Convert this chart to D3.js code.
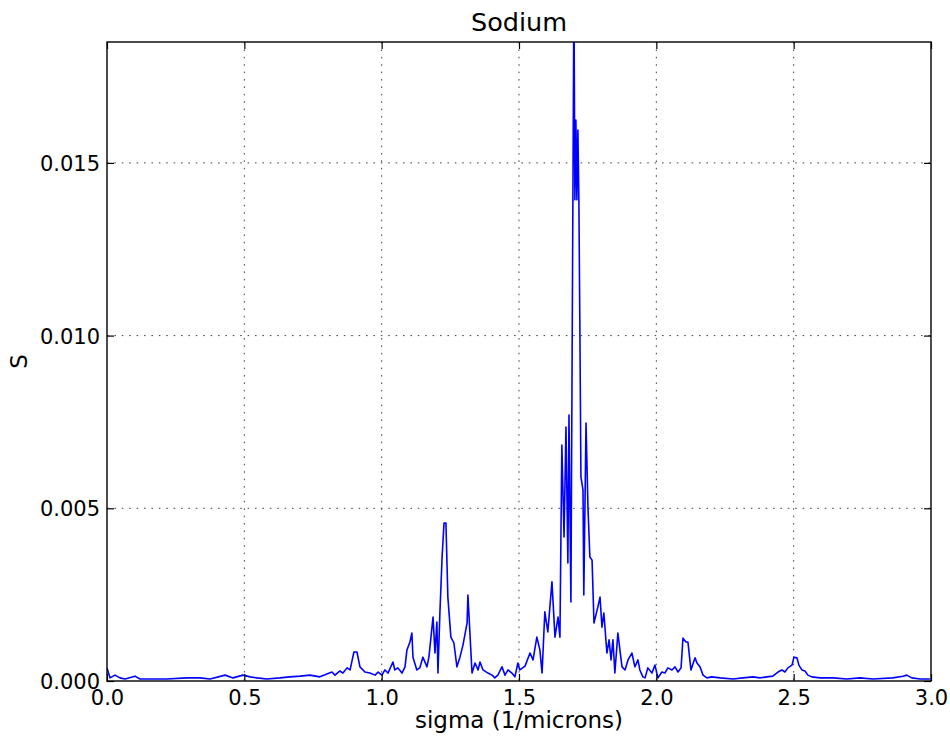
<!DOCTYPE html>
<html lang="en">
    <head>
        <meta charset="utf-8">
        <title>Sodium</title>
        <script type="text/javascript" src="https://cdn.jsdelivr.net/npm/d3@7"></script>
        <style>
            body { margin: 0; background: white; }
            text { font-family: "DejaVu Sans", sans-serif; fill: black; }
        </style>
    </head>
    <body>
        <script type="text/javascript">
            // spectrum
            const sigma = [
                0.000, 0.011, 0.029, 0.047, 0.066, 0.102, 0.120, 0.182, 0.218, 0.291,
                0.339, 0.375, 0.430, 0.459, 0.495, 0.521, 0.546, 0.582, 0.630, 0.666,
                0.703, 0.739, 0.775, 0.819, 0.830, 0.848, 0.859, 0.874, 0.885, 0.899,
                0.910, 0.921, 0.939, 0.957, 0.976, 0.987, 1.001, 1.012, 1.023, 1.041,
                1.048, 1.059, 1.074, 1.085, 1.092, 1.103, 1.110, 1.114, 1.128, 1.139,
                1.150, 1.165, 1.172, 1.187, 1.194, 1.201, 1.205, 1.212, 1.220, 1.227,
                1.234, 1.241, 1.252, 1.263, 1.274, 1.285, 1.296, 1.311, 1.314, 1.329,
                1.340, 1.351, 1.358, 1.369, 1.387, 1.402, 1.412, 1.423, 1.438, 1.449,
                1.460, 1.474, 1.485, 1.496, 1.503, 1.522, 1.540, 1.551, 1.565, 1.576,
                1.584, 1.594, 1.605, 1.620, 1.631, 1.642, 1.649, 1.656, 1.664, 1.671,
                1.678, 1.682, 1.689, 1.700, 1.7035, 1.7071, 1.7108, 1.7144, 1.718, 1.7217,
                1.7255, 1.733, 1.736, 1.744, 1.751, 1.758, 1.766, 1.773, 1.787, 1.795,
                1.802, 1.809, 1.820, 1.828, 1.835, 1.842, 1.849, 1.860, 1.875, 1.886,
                1.897, 1.911, 1.922, 1.933, 1.940, 1.951, 1.959, 1.969, 1.984, 1.995,
                2.006, 2.020, 2.031, 2.042, 2.057, 2.068, 2.079, 2.090, 2.097, 2.108,
                2.115, 2.126, 2.141, 2.148, 2.159, 2.170, 2.184, 2.202, 2.232, 2.279,
                2.315, 2.352, 2.377, 2.403, 2.424, 2.443, 2.457, 2.468, 2.479, 2.494,
                2.501, 2.512, 2.519, 2.530, 2.541, 2.552, 2.566, 2.596, 2.643, 2.694,
                2.741, 2.788, 2.861, 2.898, 2.912, 2.930, 2.960, 2.996
            ]
            const S = [
                0.00038, 0.00009, 0.00017, 0.00009, 0.00006, 0.00014, 0.00006, 0.00006, 0.00006, 0.00009,
                0.00009, 0.00006, 0.00017, 0.00009, 0.00017, 0.00012, 0.00009, 0.00006, 0.00009, 0.00012,
                0.00014, 0.00017, 0.00012, 0.00026, 0.00017, 0.00029, 0.00023, 0.00038, 0.00032, 0.00084,
                0.00084, 0.00041, 0.00026, 0.00023, 0.00017, 0.00026, 0.00017, 0.00032, 0.00023, 0.00055,
                0.00032, 0.00038, 0.00023, 0.00041, 0.00090, 0.00113, 0.00139, 0.00069, 0.00032, 0.00038,
                0.00069, 0.00041, 0.00069, 0.00185, 0.00081, 0.00171, 0.00023, 0.00197, 0.00359, 0.00457,
                0.00457, 0.00243, 0.00127, 0.00110, 0.00041, 0.00069, 0.00104, 0.00168, 0.00249, 0.00023,
                0.00052, 0.00032, 0.00055, 0.00032, 0.00023, 0.00017, 0.00009, 0.00017, 0.00041, 0.00017,
                0.00032, 0.00023, 0.00012, 0.00052, 0.00032, 0.00043, 0.00081, 0.00061, 0.00127, 0.00090,
                0.00023, 0.00200, 0.00142, 0.00287, 0.00127, 0.00185, 0.00127, 0.00683, 0.00417, 0.00735,
                0.00342, 0.00770, 0.00229, 0.02000, 0.01393, 0.01624, 0.01393, 0.01595, 0.01393, 0.01016,
                0.00591, 0.00553, 0.00249, 0.00747, 0.00504, 0.00359, 0.00350, 0.00168, 0.00214, 0.00243,
                0.00156, 0.00197, 0.00081, 0.00119, 0.00061, 0.00119, 0.00023, 0.00139, 0.00041, 0.00032,
                0.00061, 0.00081, 0.00041, 0.00061, 0.00032, 0.00012, 0.00009, 0.00038, 0.00023, 0.00046,
                0.00009, 0.00026, 0.00023, 0.00038, 0.00032, 0.00041, 0.00026, 0.00038, 0.00124, 0.00113,
                0.00113, 0.00032, 0.00067, 0.00052, 0.00041, 0.00017, 0.00009, 0.00012, 0.00009, 0.00006,
                0.00009, 0.00012, 0.00009, 0.00012, 0.00014, 0.00026, 0.00032, 0.00026, 0.00038, 0.00046,
                0.00069, 0.00067, 0.00046, 0.00032, 0.00029, 0.00017, 0.00012, 0.00009, 0.00009, 0.00006,
                0.00009, 0.00006, 0.00009, 0.00014, 0.00017, 0.00009, 0.00006, 0.00006
            ]
            const xTicks = [0.0, 0.5, 1.0, 1.5, 2.0, 2.5, 3.0]
            const yTicks = [0.000, 0.005, 0.010, 0.015]

            const w = 950
            const h = 740
            const m = {top: 42, right: 19, bottom: 59, left: 107}
            const iw = w - m.left - m.right
            const ih = h - m.top - m.bottom
            const tickLen = 7

            let svg = d3.select("body")
                        .append("svg")
                            .attr("width", w)
                            .attr("height", h)

            let x = d3.scaleLinear().domain([0, 3]).range([m.left, m.left + iw])
            let y = d3.scaleLinear().domain([0, 0.0185]).range([m.top + ih, m.top])

            svg.append("defs").append("clipPath")
                .attr("id", "plot")
                .append("rect")
                    .attr("x", m.left)
                    .attr("y", m.top)
                    .attr("width", iw)
                    .attr("height", ih)

            // dotted grid
            let grid = svg.append("g")
            grid.selectAll(".gx")
                .data(xTicks.slice(1, -1))
                .enter()
                .append("line")
                    .attr("x1", d => x(d)).attr("x2", d => x(d))
                    .attr("y1", m.top).attr("y2", m.top + ih)
            grid.selectAll(".gy")
                .data(yTicks.slice(1))
                .enter()
                .append("line")
                    .attr("x1", m.left).attr("x2", m.left + iw)
                    .attr("y1", d => y(d)).attr("y2", d => y(d))
            grid.selectAll("line")
                .attr("stroke", "#444")
                .attr("stroke-width", 1)
                .attr("stroke-dasharray", "1.6,5.8")

            let line = d3.line()
                         .x((d, i) => x(sigma[i]))
                         .y(d => y(d))
            svg.append("path")
                .datum(S)
                .attr("clip-path", "url(#plot)")
                .attr("d", line)
                .attr("fill", "none")
                .attr("stroke", "#0000ff")
                .attr("stroke-width", 1.6)
                .attr("stroke-linejoin", "round")

            // axes: ticks inside on all four sides
            let xb = svg.append("g")
                        .attr("transform", `translate(0,${m.top + ih})`)
                        .call(d3.axisBottom(x).tickValues(xTicks).tickFormat(d3.format(".1f"))
                                .tickSizeInner(-tickLen).tickSizeOuter(0).tickPadding(9))
            let xt = svg.append("g")
                        .attr("transform", `translate(0,${m.top})`)
                        .call(d3.axisTop(x).tickValues(xTicks).tickFormat("")
                                .tickSizeInner(-tickLen).tickSizeOuter(0))
            let yl = svg.append("g")
                        .attr("transform", `translate(${m.left},0)`)
                        .call(d3.axisLeft(y).tickValues(yTicks).tickFormat(d3.format(".3f"))
                                .tickSizeInner(-tickLen).tickSizeOuter(0).tickPadding(7))
            let yr = svg.append("g")
                        .attr("transform", `translate(${m.left + iw},0)`)
                        .call(d3.axisRight(y).tickValues(yTicks).tickFormat("")
                                .tickSizeInner(-tickLen).tickSizeOuter(0))
            svg.selectAll(".domain").remove()
            svg.selectAll(".tick line").attr("stroke", "black").attr("stroke-width", 1.2)
            svg.selectAll(".tick text")
                .attr("font-family", "DejaVu Sans, sans-serif")
                .attr("font-size", "21px")
                .attr("fill", "black")
            yl.selectAll(".tick text").attr("dy", "0.36em")

            svg.append("rect")
                .attr("x", m.left)
                .attr("y", m.top)
                .attr("width", iw)
                .attr("height", ih)
                .attr("fill", "none")
                .attr("stroke", "black")
                .attr("stroke-width", 1.4)

            svg.append("text")
                .attr("x", m.left + iw / 2)
                .attr("y", 31)
                .attr("text-anchor", "middle")
                .attr("font-size", "25.5px")
                .text("Sodium")
            svg.append("text")
                .attr("x", m.left + iw / 2)
                .attr("y", 728)
                .attr("text-anchor", "middle")
                .attr("font-size", "23px")
                .text("sigma (1/microns)")
            svg.append("text")
                .attr("transform", `translate(27,${m.top + ih / 2}) rotate(-90)`)
                .attr("text-anchor", "middle")
                .attr("font-size", "23px")
                .text("S")
        </script>
    </body>
</html>
